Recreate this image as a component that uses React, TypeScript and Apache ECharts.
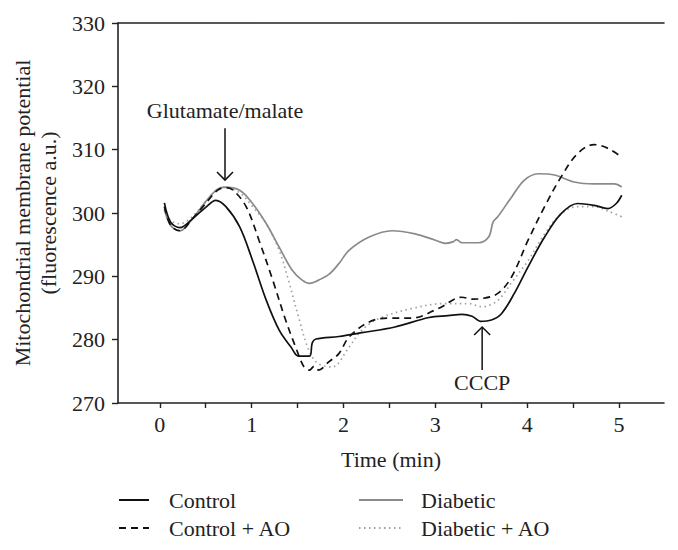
import React, { useEffect, useRef } from "react";
import * as echarts from "echarts";

// ---- data ----
const controlT = [0.05, 0.12, 0.22, 0.35, 0.5, 0.61, 0.72, 0.87, 1.01, 1.16, 1.3, 1.43, 1.51, 1.63, 1.66, 1.7, 1.95, 2.2, 2.56, 2.93, 3.14, 3.29, 3.4, 3.49, 3.61, 3.72, 3.86, 4.01, 4.19, 4.37, 4.55, 4.73, 4.88, 4.97, 5.03];
const controlV = [301.6, 298.5, 297.7, 299.0, 300.9, 302.0, 301.0, 297.8, 292.5, 286.2, 281.5, 278.8, 277.4, 277.4, 279.5, 280.1, 280.5, 281.1, 282.0, 283.5, 283.8, 284.0, 283.7, 282.9, 283.1, 284.1, 287.3, 291.5, 296.2, 299.9, 301.5, 301.2, 300.7, 301.5, 302.8];

const controlAoT = [0.05, 0.12, 0.22, 0.35, 0.5, 0.62, 0.7, 0.79, 0.94, 1.08, 1.23, 1.37, 1.48, 1.57, 1.63, 1.68, 1.73, 1.84, 1.95, 2.06, 2.28, 2.49, 2.74, 3.03, 3.29, 3.4, 3.51, 3.68, 3.83, 4.01, 4.19, 4.37, 4.55, 4.73, 4.88, 5.03];
const controlAoV = [301.0, 298.0, 297.2, 299.0, 301.5, 303.5, 304.0, 303.7, 301.0, 295.7, 289.4, 283.1, 278.8, 275.7, 275.2, 275.8, 275.2, 276.5, 277.8, 280.4, 282.8, 283.4, 283.4, 284.9, 286.7, 286.4, 286.5, 287.3, 289.9, 295.7, 301.0, 305.7, 309.4, 310.8, 310.2, 308.8];

const diabeticT = [0.05, 0.12, 0.22, 0.35, 0.5, 0.62, 0.7, 0.87, 1.01, 1.16, 1.3, 1.44, 1.55, 1.63, 1.7, 1.84, 1.95, 2.06, 2.28, 2.53, 2.78, 3.0, 3.11, 3.2, 3.23, 3.29, 3.47, 3.58, 3.63, 3.68, 3.83, 3.97, 4.12, 4.3, 4.51, 4.73, 4.95, 5.03];
const diabeticV = [300.6, 298.0, 297.2, 299.0, 301.8, 303.7, 304.1, 303.6, 301.5, 298.3, 294.6, 291.0, 289.4, 288.9, 289.2, 290.3, 292.0, 294.1, 296.2, 297.2, 296.7, 295.7, 295.2, 295.5, 295.8, 295.3, 295.3, 296.2, 298.6, 299.4, 302.5, 305.2, 306.2, 306.0, 304.9, 304.6, 304.6, 304.1];

const diabeticAoT = [0.05, 0.12, 0.22, 0.35, 0.5, 0.62, 0.7, 0.87, 1.01, 1.16, 1.3, 1.41, 1.52, 1.61, 1.7, 1.8, 1.88, 2.06, 2.2, 2.38, 2.74, 3.1, 3.36, 3.51, 3.68, 3.83, 4.01, 4.19, 4.37, 4.55, 4.73, 4.88, 5.03];
const diabeticAoV = [300.5, 298.8, 298.3, 299.4, 301.8, 303.6, 304.0, 303.2, 301.0, 298.3, 294.1, 288.9, 283.1, 278.8, 276.5, 275.8, 275.7, 278.8, 281.5, 283.3, 284.9, 285.7, 285.7, 285.2, 286.2, 289.0, 292.5, 296.7, 299.9, 301.0, 301.0, 300.3, 299.4];

const xTickValues = [0, 0.5, 1, 1.5, 2, 2.5, 3, 3.5, 4, 4.5, 5];
const xLabelValues = [0, 1, 2, 3, 4, 5];

// annotations: time, text value, arrow start value, arrow tip value
const glutamate = { t: 0.71, textV: 316.2, fromV: 313.4, toV: 305.2, label: "Glutamate/malate" };
const cccp = { t: 3.51, textV: 273.3, fromV: 275.2, toV: 282.0, label: "CCCP" };

const FONT = "'Liberation Serif', 'DejaVu Serif', serif";
const FS = 22;

const zip = (t: number[], v: number[]) => t.map((x, i) => [x, v[i]]);

export default function App() {
  const ref = useRef<HTMLDivElement>(null);
  useEffect(() => {
    if (!ref.current) return;
    const chart = echarts.init(ref.current, undefined, { renderer: "svg" });
    const axisColor = "#222";
    const option: any = {
      animation: false,
      backgroundColor: "#fff",
      textStyle: { fontFamily: FONT },
      grid: { left: 118, right: 14, top: 23, bottom: 147, containLabel: false },
      xAxis: [
        {
          type: "value",
          min: -0.455,
          max: 5.49,
          name: "Time (min)",
          nameLocation: "middle",
          nameGap: 45,
          nameTextStyle: { fontFamily: FONT, fontSize: FS, color: "#222" },
          axisLine: { show: true, onZero: false, lineStyle: { color: axisColor, width: 1.6 } },
          axisTick: { show: true, length: 5, customValues: xTickValues, lineStyle: { color: axisColor, width: 1.4 } },
          axisLabel: { customValues: xLabelValues, margin: 10, fontFamily: FONT, fontSize: FS, color: "#222" },
          splitLine: { show: false },
        },
        {
          type: "value",
          position: "top",
          min: -0.455,
          max: 5.49,
          axisLine: { show: true, onZero: false, lineStyle: { color: axisColor, width: 1.6 } },
          axisTick: { show: false },
          axisLabel: { show: false },
          splitLine: { show: false },
        },
      ],
      yAxis: {
        type: "value",
        min: 270,
        max: 330,
        interval: 10,
        name: "Mitochondrial membrane potential\n(fluorescence a.u.)",
        nameLocation: "middle",
        nameGap: 54,
        nameTextStyle: { fontFamily: FONT, fontSize: FS, color: "#222", lineHeight: 26 },
        axisLine: { show: true, onZero: false, lineStyle: { color: axisColor, width: 1.6 } },
        axisTick: { show: true, length: 6, lineStyle: { color: axisColor, width: 1.4 } },
        axisLabel: { margin: 13, fontFamily: FONT, fontSize: FS, color: "#222" },
        splitLine: { show: false },
      },
      legend: [
        {
          data: ["Control", "Control + AO"],
          orient: "vertical",
          left: 118,
          top: 489,
          itemWidth: 30,
          itemHeight: 14,
          itemGap: 6,
          padding: 0,
          itemStyle: { opacity: 0 },
          textStyle: { fontFamily: FONT, fontSize: FS, color: "#222", lineHeight: 22, padding: [0, 0, 0, 15] },
        },
        {
          data: ["Diabetic", "Diabetic + AO"],
          orient: "vertical",
          left: 358,
          top: 489,
          itemWidth: 44,
          itemHeight: 14,
          itemGap: 6,
          padding: 0,
          itemStyle: { opacity: 0 },
          textStyle: { fontFamily: FONT, fontSize: FS, color: "#222", lineHeight: 22, padding: [0, 0, 0, 13] },
        },
      ],
      series: [
        {
          name: "Control",
          type: "line",
          data: zip(controlT, controlV),
          symbol: "none",
          smooth: 0.35,
          lineStyle: { color: "#111", width: 1.7, type: "solid" },
          itemStyle: { color: "#111" },
          z: 5,
        },
        {
          name: "Diabetic",
          type: "line",
          data: zip(diabeticT, diabeticV),
          symbol: "none",
          smooth: 0.35,
          lineStyle: { color: "#8a8a8a", width: 1.7, type: "solid" },
          itemStyle: { color: "#8a8a8a" },
          z: 3,
        },
        {
          name: "Control + AO",
          type: "line",
          data: zip(controlAoT, controlAoV),
          symbol: "none",
          smooth: 0.35,
          lineStyle: { color: "#111", width: 1.7, type: [7, 5] },
          itemStyle: { color: "#111" },
          z: 4,
        },
        {
          name: "Diabetic + AO",
          type: "line",
          data: zip(diabeticAoT, diabeticAoV),
          symbol: "none",
          smooth: 0.35,
          lineStyle: { color: "#a0a0a0", width: 1.7, type: [1.5, 3.5] },
          itemStyle: { color: "#a0a0a0" },
          z: 2,
        },
      ],
    };
    chart.setOption(option);

    const px = (t: number, v: number) => chart.convertToPixel({ xAxisIndex: 0, yAxisIndex: 0 }, [t, v]) as number[];
    const arrow = (a: typeof glutamate, down: boolean) => {
      const [x, yText] = px(a.t, a.textV);
      const [, yFrom] = px(a.t, a.fromV);
      const [, yTo] = px(a.t, a.toV);
      const d = down ? -1 : 1;
      const stroke = { stroke: "#111", lineWidth: 1.5, fill: "none" };
      return [
        {
          type: "text",
          x,
          y: yText,
          style: { text: a.label, font: `${FS}px ${FONT}`, fill: "#222", align: "center", verticalAlign: "middle" },
        },
        { type: "line", shape: { x1: x, y1: yFrom, x2: x, y2: yTo }, style: stroke },
        {
          type: "polyline",
          shape: { points: [[x - 8, yTo + d * 8], [x, yTo], [x + 8, yTo + d * 8]] },
          style: stroke,
        },
      ];
    };
    chart.setOption({ graphic: [...arrow(glutamate, true), ...arrow(cccp, false)] });

    return () => chart.dispose();
  }, []);
  return <div ref={ref} style={{ position: "fixed", left: 0, top: 0, width: 678, height: 550 }} />;
}
